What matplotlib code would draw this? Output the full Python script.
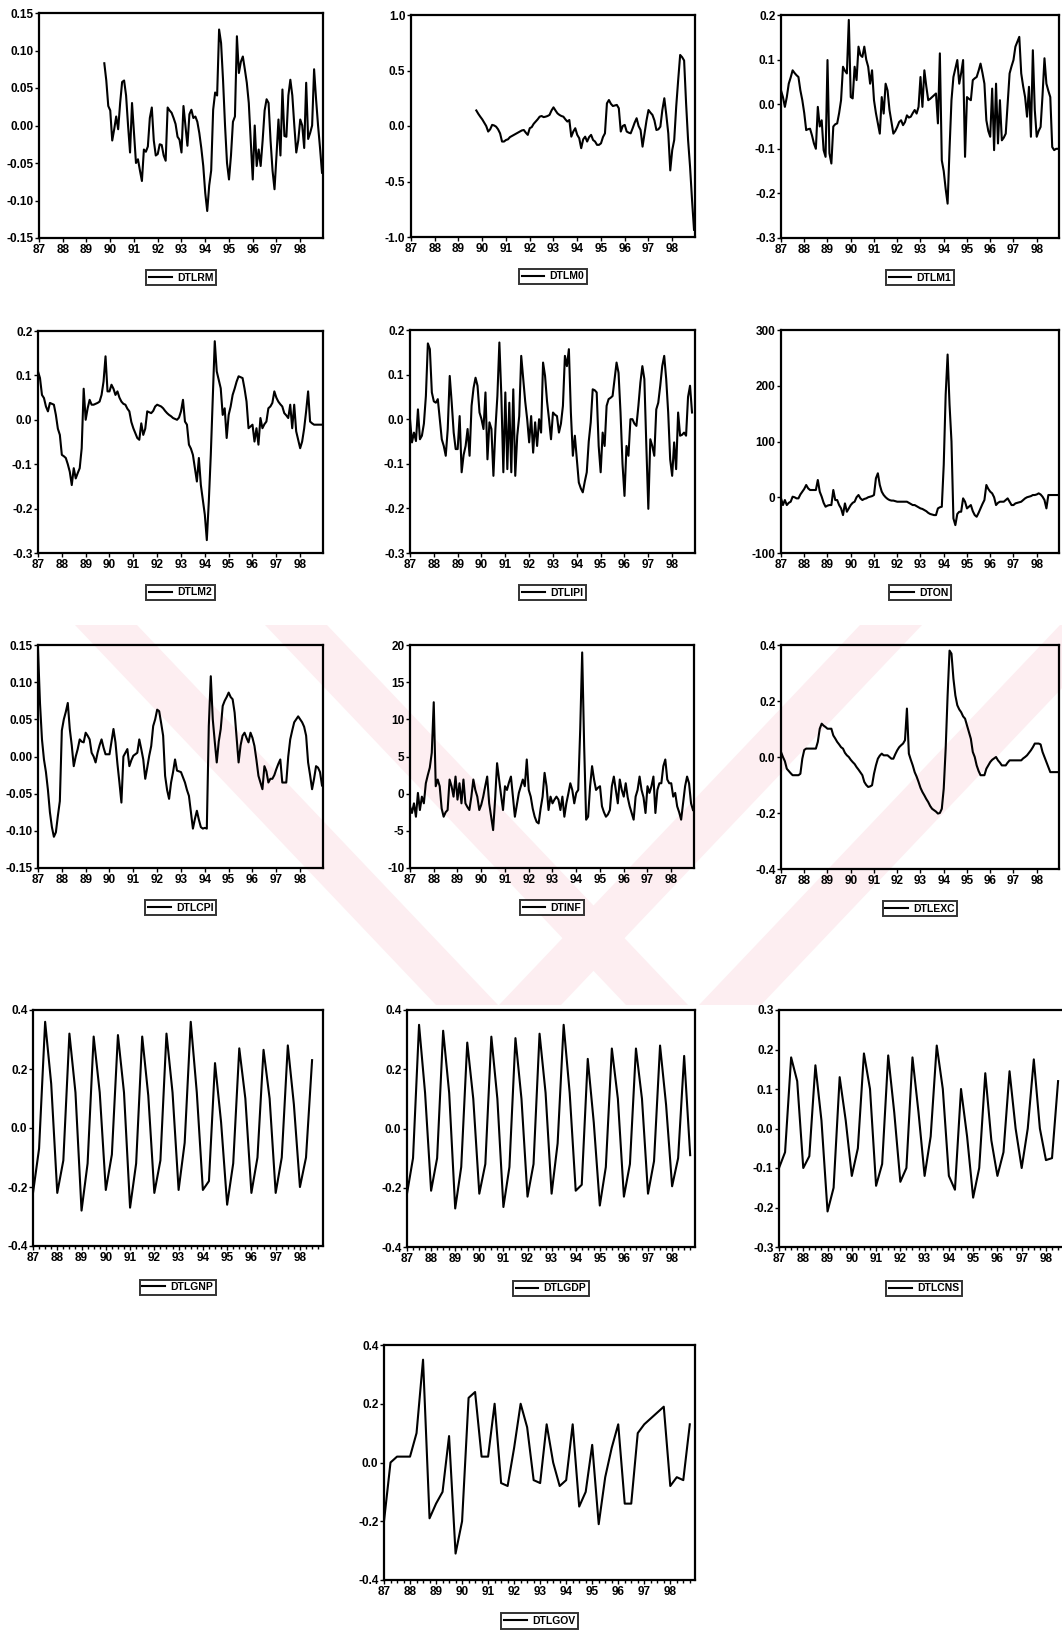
import numpy as np
import matplotlib.pyplot as plt
from matplotlib.patches import Polygon

plt.rcParams['font.family'] = ['Liberation Sans', 'DejaVu Sans']
plt.rcParams['font.weight'] = 'bold'

nan = np.nan
W, H = 1062, 1641

YEAR_LABELS = ['87', '88', '89', '90', '91', '92', '93', '94', '95', '96', '97', '98']

# ---------------- monthly series, 1987M1 - 1998M12 ----------------
dtlrm = [nan] * 33 + [
    0.083, 0.06, 0.026,
    0.02, -0.02, -0.005, 0.012, -0.005, 0.03, 0.058, 0.06, 0.04, 0.0, -0.036, 0.03,
    -0.01, -0.05, -0.045, -0.06, -0.074, -0.032, -0.035, -0.028, 0.01, 0.024, -0.02, -0.04,
    -0.038, -0.025, -0.026, -0.04, -0.047, 0.024, 0.02, 0.017, 0.01, 0.002, -0.015, -0.019,
    -0.036, 0.026, 0.0, -0.027, 0.015, 0.021, 0.01, 0.012, 0.005, -0.01, -0.03, -0.054,
    -0.09, -0.114, -0.08, -0.06, 0.021, 0.044, 0.04, 0.128, 0.11, 0.06, 0.0, -0.05,
    -0.072, -0.04, 0.005, 0.012, 0.119, 0.07, 0.085, 0.092, 0.075, 0.057, 0.03, -0.02,
    -0.072, 0.0, -0.054, -0.032, -0.054, -0.02, 0.02, 0.035, 0.03, -0.02, -0.06, -0.085,
    -0.04, 0.008, -0.04, 0.048, -0.014, -0.015, 0.04, 0.061, 0.04, 0.0, -0.036, -0.02,
    0.008, 0.0, -0.03, 0.057, -0.018, -0.01, 0.0, 0.075, 0.035, 0.0, -0.03, -0.063]

dtlm0 = [nan] * 33 + [
    0.14, 0.11, 0.084,
    0.06, 0.03, 0.0, -0.05, -0.03, 0.01, 0.005, -0.006, -0.03, -0.066, -0.14, -0.14,
    -0.126, -0.12, -0.1, -0.09, -0.08, -0.07, -0.06, -0.05, -0.04, -0.036, -0.06, -0.08,
    -0.02, -0.01, 0.02, 0.04, 0.06, 0.084, 0.09, 0.08, 0.084, 0.09, 0.1, 0.14,
    0.168, 0.14, 0.114, 0.1, 0.09, 0.084, 0.06, 0.04, 0.054, -0.096, -0.05, -0.02,
    -0.08, -0.11, -0.2, -0.12, -0.096, -0.14, -0.1, -0.08, -0.126, -0.14, -0.17, -0.17,
    -0.156, -0.1, -0.066, 0.204, 0.234, 0.2, 0.18, 0.185, 0.19, 0.16, -0.05, 0.0,
    0.01, -0.05, -0.06, -0.066, -0.02, 0.03, 0.07, 0.0, -0.036, -0.186, -0.066, 0.05,
    0.144, 0.12, 0.1, 0.05, -0.036, -0.03, -0.006, 0.144, 0.25, 0.1, -0.066, -0.4,
    -0.216, -0.126, 0.174, 0.414, 0.64, 0.62, 0.59, 0.204, -0.126, -0.366, -0.666, -0.935]

dtlm1 = [
    0.031, 0.016, -0.006, 0.016, 0.046, 0.06, 0.076, 0.07, 0.065, 0.061, 0.031, 0.009,
    -0.02, -0.058, -0.056, -0.055, -0.07, -0.088, -0.1, -0.006, -0.05, -0.036, -0.103, -0.118,
    0.099, -0.11, -0.133, -0.05, -0.045, -0.043, -0.02, 0.009, 0.084, 0.075, 0.069, 0.189,
    0.016, 0.013, 0.084, 0.054, 0.129, 0.11, 0.106, 0.129, 0.1, 0.084, 0.046, 0.076,
    0.009, -0.02, -0.043, -0.066, 0.016, -0.021, 0.046, 0.031, -0.013, -0.04, -0.066, -0.06,
    -0.051, -0.04, -0.036, -0.047, -0.04, -0.025, -0.03, -0.028, -0.02, -0.013, -0.021, -0.006,
    0.061, -0.006, 0.076, 0.04, 0.009, 0.012, 0.016, 0.02, 0.024, -0.043, 0.114, -0.126,
    -0.15, -0.19, -0.223, -0.1, 0.009, 0.061, 0.08, 0.099, 0.046, 0.07, 0.099, -0.118,
    0.016, 0.012, 0.009, 0.054, 0.058, 0.061, 0.075, 0.091, 0.07, 0.046, -0.036, -0.06,
    -0.073, 0.035, -0.103, 0.046, -0.088, 0.009, -0.081, -0.075, -0.066, 0.0, 0.069, 0.085,
    0.099, 0.129, 0.14, 0.151, 0.069, 0.04, 0.016, -0.028, 0.039, -0.073, 0.121, -0.013,
    -0.073, -0.06, -0.051, 0.02, 0.103, 0.046, 0.03, 0.016, -0.096, -0.103, -0.1, -0.1]

dtlm2 = [
    0.109, 0.094, 0.056, 0.049, 0.03, 0.019, 0.038, 0.036, 0.034, 0.011, -0.02, -0.034,
    -0.079, -0.082, -0.086, -0.1, -0.117, -0.147, -0.109, -0.132, -0.12, -0.109, -0.064, 0.07,
    0.0, 0.026, 0.045, 0.034, 0.034, 0.036, 0.038, 0.041, 0.056, 0.086, 0.143, 0.064,
    0.064, 0.079, 0.07, 0.056, 0.064, 0.05, 0.041, 0.036, 0.034, 0.025, 0.019, -0.005,
    -0.019, -0.03, -0.041, -0.045, -0.008, -0.034, -0.02, 0.019, 0.017, 0.015, 0.02, 0.03,
    0.034, 0.032, 0.03, 0.026, 0.02, 0.015, 0.011, 0.008, 0.004, 0.002, 0.0, 0.005,
    0.019, 0.045, -0.004, -0.011, -0.056, -0.065, -0.079, -0.109, -0.139, -0.086, -0.147, -0.18,
    -0.214, -0.271, -0.184, -0.079, 0.049, 0.177, 0.109, 0.09, 0.071, 0.011, 0.026, -0.041,
    0.011, 0.03, 0.056, 0.07, 0.086, 0.098, 0.096, 0.094, 0.07, 0.041, -0.019, -0.015,
    -0.011, -0.049, -0.019, -0.056, 0.004, -0.019, -0.01, -0.004, 0.026, 0.03, 0.038, 0.064,
    0.05, 0.041, 0.035, 0.03, 0.015, 0.01, 0.004, 0.034, -0.019, 0.034, -0.026, -0.045,
    -0.064, -0.049, -0.02, 0.019, 0.064, -0.004, -0.008, -0.011, -0.011, -0.011, -0.011, -0.011]

dtlipi = [
    0.0, -0.052, -0.03, -0.049, 0.022, -0.045, -0.037, -0.01, 0.052, 0.17, 0.157, 0.06,
    0.04, 0.037, 0.045, 0.0, -0.045, -0.06, -0.082, -0.022, 0.097, 0.037, -0.03, -0.067,
    -0.067, 0.007, -0.119, -0.08, -0.06, -0.022, -0.082, 0.03, 0.07, 0.093, 0.075, 0.015,
    0.0, -0.022, 0.06, -0.09, -0.007, -0.022, -0.127, -0.022, 0.052, 0.172, 0.052, -0.119,
    0.06, -0.112, 0.037, -0.119, 0.067, -0.127, -0.037, 0.007, 0.142, 0.09, 0.04, 0.0,
    -0.052, 0.007, -0.075, -0.007, -0.06, 0.0, -0.03, 0.127, 0.097, 0.04, 0.0, -0.045,
    0.015, 0.01, 0.007, -0.03, -0.01, 0.03, 0.142, 0.119, 0.157, 0.015, -0.082, -0.037,
    -0.09, -0.142, -0.155, -0.164, -0.14, -0.119, -0.05, -0.007, 0.067, 0.065, 0.06, -0.06,
    -0.119, -0.03, -0.06, 0.03, 0.045, 0.048, 0.052, 0.09, 0.127, 0.104, 0.015, -0.1,
    -0.172, -0.06, -0.082, 0.0, 0.0, -0.01, -0.015, 0.03, 0.082, 0.119, 0.09, -0.06,
    -0.201, -0.045, -0.06, -0.082, 0.022, 0.037, 0.075, 0.119, 0.142, 0.09, 0.015, -0.09,
    -0.127, -0.052, -0.112, 0.015, -0.037, -0.035, -0.03, -0.037, 0.05, 0.075, 0.015, nan]

dton = [
    -2, -14, -5, -14, -10, -8, 1, 0, -2, -2, 5, 10,
    15, 22, 16, 13, 13, 13, 13, 31, 10, 1, -10, -17,
    -15, -14, -14, 13, -5, -5, -14, -20, -32, -11, -26, -20,
    -14, -10, -8, 0, 4, -2, -5, -3, -2, 0, 1, 2,
    4, 34, 43, 22, 10, 4, 0, -3, -5, -6, -6, -7,
    -8, -8, -8, -8, -8, -8, -10, -12, -14, -14, -16, -18,
    -20, -21, -23, -25, -28, -30, -31, -32, -32, -20, -18, -17,
    58, 184, 256, 166, 100, -38, -50, -30, -26, -26, -2, -8,
    -20, -17, -14, -25, -32, -35, -28, -20, -12, -5, 22, 15,
    10, 7, 0, -14, -10, -8, -8, -8, -5, -2, -8, -14,
    -14, -11, -10, -9, -8, -5, -2, 0, 1, 2, 4, 4,
    5, 7, 5, 1, -5, -20, 4, 4, 4, 4, 4, 4]

dtlcpi = [
    0.144, 0.072, 0.023, -0.004, -0.021, -0.045, -0.075, -0.095, -0.108, -0.102, -0.08, -0.06,
    0.035, 0.05, 0.06, 0.072, 0.037, 0.015, -0.013, 0.0, 0.01, 0.023, 0.02, 0.019,
    0.032, 0.028, 0.023, 0.005, 0.0, -0.008, 0.005, 0.015, 0.023, 0.012, 0.003, 0.003,
    0.003, 0.02, 0.037, 0.019, -0.01, -0.035, -0.062, 0.0, 0.005, 0.01, -0.013, -0.005,
    0.001, 0.003, 0.005, 0.023, 0.01, -0.004, -0.03, -0.015, 0.001, 0.014, 0.041, 0.05,
    0.063, 0.061, 0.045, 0.028, -0.026, -0.045, -0.057, -0.035, -0.021, -0.004, -0.019, -0.02,
    -0.021, -0.028, -0.035, -0.045, -0.053, -0.075, -0.097, -0.084, -0.073, -0.085, -0.095, -0.097,
    -0.096, -0.097, 0.041, 0.108, 0.05, 0.02, -0.008, 0.02, 0.037, 0.068, 0.075, 0.08,
    0.086, 0.08, 0.077, 0.059, 0.025, -0.008, 0.015, 0.028, 0.032, 0.025, 0.019, 0.032,
    0.025, 0.014, -0.005, -0.026, -0.035, -0.044, -0.013, -0.02, -0.035, -0.03, -0.03, -0.025,
    -0.017, -0.01, -0.004, -0.035, -0.035, -0.035, 0.0, 0.023, 0.035, 0.046, 0.05, 0.054,
    0.05, 0.046, 0.04, 0.028, -0.008, -0.025, -0.044, -0.03, -0.013, -0.015, -0.021, -0.039]

dtinf = [
    -1.7, -2.6, -1.3, -3.1, 0.1, -2.2, -0.4, -1.3, 1.4, 2.5, 3.5, 5.5,
    12.3, 1.0, 1.9, 1.0, -2.0, -3.1, -2.5, -2.2, 1.9, 1.0, -0.4, 2.3,
    -0.8, 1.4, -1.3, 1.9, -1.3, -1.8, -2.2, -0.4, 1.9, 0.5, -0.4, -2.2,
    -1.5, -0.4, 1.0, 2.3, -1.3, -3.1, -4.9, -0.8, 4.1, 1.9, -0.2, -2.2,
    1.0, 0.5, 1.5, 2.3, -0.4, -3.1, -1.5, 0.1, 1.0, 1.9, 1.0, 4.6,
    0.5, -0.4, -2.0, -3.1, -3.8, -4.0, -2.0, -0.4, 2.8, 1.0, -2.2, -0.4,
    -1.3, -0.8, -0.4, -0.8, -2.2, -0.4, -3.1, -1.3, 0.0, 1.4, 0.5, -1.3,
    0.1, 0.5, 8.6, 19.0, 6.4, -3.5, -3.1, 1.0, 3.7, 1.9, 0.5, 0.8,
    1.0, -1.7, -2.5, -3.1, -2.8, -2.2, 1.0, 2.3, 0.5, -1.3, 1.9, 0.5,
    -0.4, 1.4, -0.5, -1.7, -2.6, -3.5, -0.4, 0.5, 2.3, 0.5, -0.5, -2.6,
    1.0, 0.1, 1.0, 2.3, -2.6, 0.5, 1.4, 1.4, 3.7, 4.6, 1.9, 1.4,
    1.4, -0.4, 0.1, -1.7, -2.5, -3.5, -1.3, 1.0, 2.3, 1.4, -1.3, -2.2]

dtlexc = [
    0.018, 0.0, -0.015, -0.042, -0.05, -0.058, -0.065, -0.065, -0.065, -0.065, -0.06, -0.006,
    0.025, 0.03, 0.03, 0.03, 0.03, 0.03, 0.03, 0.054, 0.101, 0.119, 0.112, 0.107,
    0.101, 0.101, 0.101, 0.077, 0.066, 0.054, 0.045, 0.035, 0.03, 0.015, 0.006, 0.0,
    -0.01, -0.018, -0.025, -0.036, -0.045, -0.055, -0.065, -0.089, -0.1, -0.107, -0.105, -0.101,
    -0.06, -0.03, -0.006, 0.005, 0.012, 0.006, 0.006, 0.006, 0.0, -0.006, -0.006, 0.01,
    0.024, 0.035, 0.042, 0.048, 0.06, 0.173, 0.012, -0.01, -0.03, -0.054, -0.07, -0.089,
    -0.11, -0.125, -0.137, -0.15, -0.161, -0.175, -0.185, -0.19, -0.195, -0.202, -0.2, -0.185,
    -0.113, 0.03, 0.22, 0.38, 0.369, 0.28, 0.22, 0.185, 0.17, 0.16, 0.145, 0.137,
    0.113, 0.09, 0.065, 0.018, 0.0, -0.03, -0.05, -0.065, -0.065, -0.065, -0.042, -0.03,
    -0.018, -0.01, -0.005, 0.0, -0.012, -0.02, -0.03, -0.03, -0.03, -0.02, -0.012, -0.012,
    -0.012, -0.012, -0.012, -0.012, -0.012, -0.005, 0.0, 0.006, 0.015, 0.024, 0.035, 0.048,
    0.048, 0.048, 0.045, 0.018, 0.0, -0.018, -0.036, -0.054, -0.054, -0.054, -0.054, -0.054]

# ---------------- quarterly series, 1987Q1 - 1998Q4 ----------------
dtlgnp = [
    -0.22, -0.07, 0.36, 0.15, -0.22, -0.11, 0.32, 0.12, -0.28, -0.12, 0.31, 0.12,
    -0.21, -0.09, 0.315, 0.12, -0.27, -0.12, 0.31, 0.11, -0.22, -0.11, 0.32, 0.12,
    -0.21, -0.05, 0.36, 0.12, -0.21, -0.18, 0.22, 0.02, -0.26, -0.12, 0.27, 0.1,
    -0.22, -0.1, 0.265, 0.1, -0.22, -0.1, 0.28, 0.08, -0.2, -0.1, 0.23, nan]

dtlgdp = [
    -0.22, -0.1, 0.35, 0.12, -0.21, -0.1, 0.33, 0.12, -0.27, -0.13, 0.29, 0.1,
    -0.22, -0.12, 0.31, 0.1, -0.265, -0.13, 0.305, 0.1, -0.23, -0.12, 0.32, 0.12,
    -0.22, -0.05, 0.35, 0.12, -0.21, -0.19, 0.235, 0.02, -0.26, -0.13, 0.27, 0.1,
    -0.23, -0.12, 0.27, 0.1, -0.22, -0.11, 0.28, 0.08, -0.195, -0.1, 0.245, -0.09]

dtlcns = [
    -0.1, -0.06, 0.18, 0.12, -0.1, -0.07, 0.16, 0.02, -0.21, -0.15, 0.13, 0.02,
    -0.12, -0.05, 0.19, 0.1, -0.145, -0.09, 0.185, 0.04, -0.135, -0.1, 0.18, 0.04,
    -0.12, -0.02, 0.21, 0.1, -0.12, -0.155, 0.1, -0.02, -0.175, -0.1, 0.14, -0.03,
    -0.12, -0.06, 0.145, 0.0, -0.1, 0.0, 0.175, 0.0, -0.08, -0.075, 0.12, nan]

dtlgov = [
    -0.2, 0.0, 0.02, 0.02, 0.02, 0.1, 0.35, -0.19, -0.14, -0.1, 0.09, -0.31,
    -0.2, 0.22, 0.24, 0.02, 0.02, 0.2, -0.07, -0.08, 0.05, 0.2, 0.12, -0.06,
    -0.07, 0.13, 0.0, -0.08, -0.06, 0.13, -0.15, -0.1, 0.06, -0.21, -0.05, 0.05,
    0.13, -0.14, -0.14, 0.1, 0.13, 0.15, 0.17, 0.19, -0.08, -0.05, -0.06, 0.13]

# ---------------- layout (pixel boxes: left, top, right, bottom) ----------------
panels = [
    ('DTLRM', dtlrm, 'M', (39, 13, 323, 238), (-0.15, 0.15), [0.15, 0.10, 0.05, 0.00, -0.05, -0.10, -0.15], '{:.2f}'),
    ('DTLM0', dtlm0, 'M', (411, 15, 695, 237), (-1.0, 1.0), [1.0, 0.5, 0.0, -0.5, -1.0], '{:.1f}'),
    ('DTLM1', dtlm1, 'M', (781, 15, 1059, 238), (-0.3, 0.2), [0.2, 0.1, 0.0, -0.1, -0.2, -0.3], '{:.1f}'),
    ('DTLM2', dtlm2, 'M', (38, 331, 323, 553), (-0.3, 0.2), [0.2, 0.1, 0.0, -0.1, -0.2, -0.3], '{:.1f}'),
    ('DTLIPI', dtlipi, 'M', (410, 330, 695, 553), (-0.3, 0.2), [0.2, 0.1, 0.0, -0.1, -0.2, -0.3], '{:.1f}'),
    ('DTON', dton, 'M', (781, 330, 1059, 553), (-100, 300), [300, 200, 100, 0, -100], '{:.0f}'),
    ('DTLCPI', dtlcpi, 'M', (38, 645, 323, 868), (-0.15, 0.15), [0.15, 0.10, 0.05, 0.00, -0.05, -0.10, -0.15], '{:.2f}'),
    ('DTINF', dtinf, 'M', (410, 645, 694, 868), (-10, 20), [20, 15, 10, 5, 0, -5, -10], '{:.0f}'),
    ('DTLEXC', dtlexc, 'M', (781, 645, 1059, 869), (-0.4, 0.4), [0.4, 0.2, 0.0, -0.2, -0.4], '{:.1f}'),
    ('DTLGNP', dtlgnp, 'Q', (33, 1010, 323, 1246), (-0.4, 0.4), [0.4, 0.2, 0.0, -0.2, -0.4], '{:.1f}'),
    ('DTLGDP', dtlgdp, 'Q', (407, 1010, 695, 1247), (-0.4, 0.4), [0.4, 0.2, 0.0, -0.2, -0.4], '{:.1f}'),
    ('DTLCNS', dtlcns, 'Q', (779, 1010, 1069, 1247), (-0.3, 0.3), [0.3, 0.2, 0.1, 0.0, -0.1, -0.2, -0.3], '{:.1f}'),
    ('DTLGOV', dtlgov, 'Q', (384, 1345, 695, 1580), (-0.4, 0.4), [0.4, 0.2, 0.0, -0.2, -0.4], '{:.1f}'),
]

fig = plt.figure(figsize=(W / 100, H / 100), dpi=100)


def px(x, y):
    return (x / W, 1 - y / H)


# faint pink watermark of the scan (diagonal bands), behind the panels
WM_TOP, WM_BOT, WM_SLOPE, WM_W = 625, 1005, 0.95, 62
for a, sgn in [(75, 1), (265, 1), (860, -1), (1060, -1)]:
    d = sgn * WM_SLOPE * (WM_BOT - WM_TOP)
    pts = [px(a, WM_TOP), px(a + WM_W, WM_TOP), px(a + WM_W + d, WM_BOT), px(a + d, WM_BOT)]
    fig.patches.append(Polygon(pts, closed=True, transform=fig.transFigure,
                               facecolor='#fdeef1', edgecolor='none', zorder=-5))

for name, vals, freq, box, ylim, yticks, fmt in panels:
    l, t, r, b = box
    ax = fig.add_axes([l / W, 1 - b / H, (r - l) / W, (b - t) / H])
    ax.set_facecolor('none')
    vals = np.array(vals, dtype=float)
    x = np.arange(len(vals))
    ax.plot(x, vals, color='black', lw=1.5, label=name)
    per = 12 if freq == 'M' else 4
    n = 12 * per
    ax.set_xlim(0, n - 0.2 if freq == 'Q' else n - 0.5)
    ax.set_ylim(*ylim)
    ax.set_xticks(np.arange(0, n, per))
    ax.set_xticklabels(YEAR_LABELS)
    if freq == 'Q':
        ax.set_xticks(np.arange(0, n), minor=True)
        ax.tick_params(axis='x', which='minor', length=2.5, width=1.0, direction='out')
    ax.set_yticks(yticks)
    ax.set_yticklabels([fmt.format(v) for v in yticks])
    ax.tick_params(axis='both', which='major', labelsize=8.5, length=3, width=1.0,
                   direction='out', pad=1)
    for s in ax.spines.values():
        s.set_linewidth(1.6)
    leg = ax.legend(loc='upper center', bbox_to_anchor=(0.5, -0.12), frameon=True,
                    fancybox=False, handlelength=2.2, handletextpad=0.5,
                    borderpad=0.25, prop={'size': 7.5, 'weight': 'bold'})
    leg.get_frame().set_edgecolor('black')
    leg.get_frame().set_linewidth(1.4)

fig.savefig('out.png', dpi=100)
